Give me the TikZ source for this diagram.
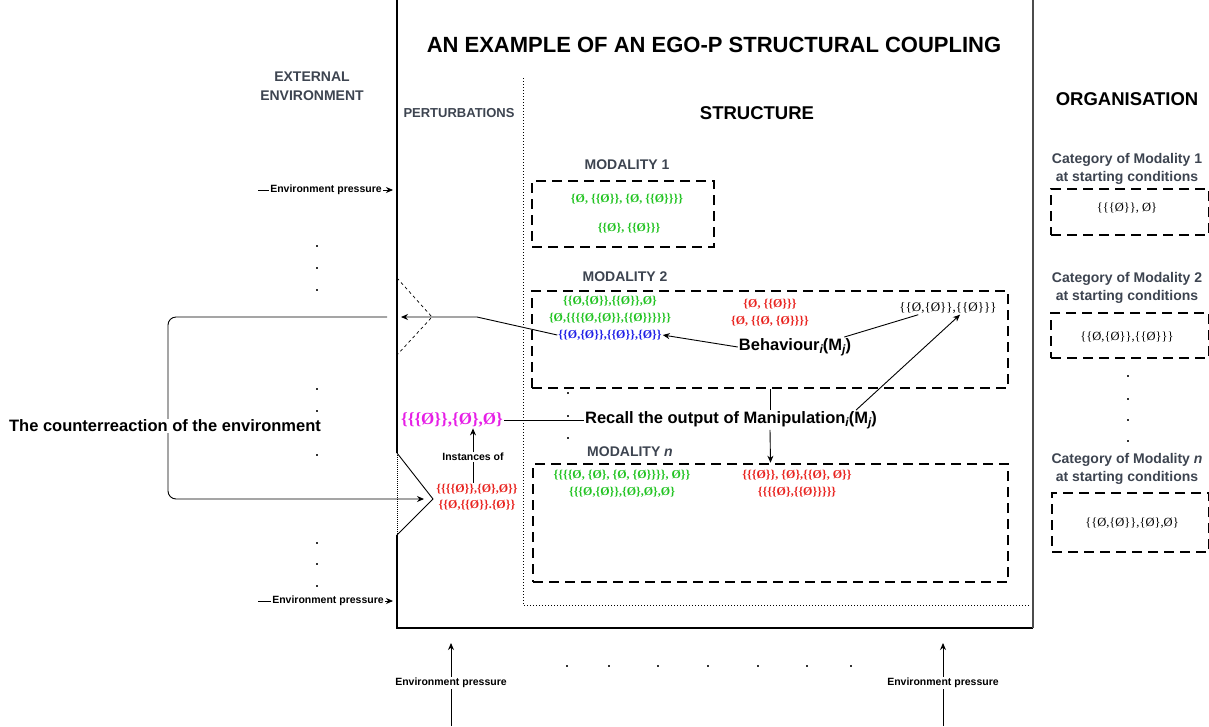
\documentclass[tikz,border=0pt]{standalone}
\usepackage{fontspec}
\setmainfont{Liberation Serif}
\setsansfont{Liberation Sans}
\usetikzlibrary{arrows.meta,calc}
\definecolor{hgray}{HTML}{3D4450}
\definecolor{sgreen}{HTML}{22C322}
\definecolor{sred}{HTML}{E8231F}
\definecolor{sblue}{HTML}{1F1FE6}
\definecolor{smag}{HTML}{E61EE6}
\definecolor{dotc}{HTML}{333333}
\newcommand{\fsz}[1]{\fontsize{#1}{#1}\selectfont}
\newcommand{\sbx}[1]{\raisebox{-0.35ex}{\fontsize{12}{12}\selectfont\itshape #1}}
\tikzset{
  every node/.style={inner sep=1pt},
  title/.style={font=\sffamily\bfseries\fsz{22}},
  head/.style={font=\sffamily\bfseries\fsz{18.5}},
  ghead/.style={font=\sffamily\bfseries\fsz{14}, text=hgray, align=center},
  glab/.style={font=\sffamily\bfseries\fsz{13}, text=hgray},
  blab/.style={font=\sffamily\bfseries\fsz{16.5}},
  small/.style={font=\sffamily\bfseries\fsz{10.5}, fill=white},
  setg/.style={font=\rmfamily\bfseries\fsz{12}, text=sgreen},
  setr/.style={font=\rmfamily\bfseries\fsz{12}, text=sred},
  setb/.style={font=\rmfamily\bfseries\fsz{12}, text=sblue},
  setk/.style={font=\rmfamily\fsz{12.5}},
  modbox/.style={draw, line width=2.6pt, dash pattern=on 10pt off 6pt, inner sep=0pt},
  conn/.style={line width=0.9pt},
  arr/.style={line width=0.9pt, -{Stealth[length=7pt,width=6pt]}},
  dotfill/.style={fill=dotc},
}
\begin{document}
\begin{tikzpicture}[x=1pt,y=-1pt]
\useasboundingbox (0,0) rectangle (1209,726);

% ---------- frame ----------
\draw[line width=1.2pt] (397,0) -- (397,453);
\draw[line width=1pt, densely dotted] (397,453) -- (397,535);
\draw[line width=1.2pt] (397,535) -- (397,628) -- (1033,628);
\draw[line width=1.2pt, draw=black!70] (1033,628) -- (1033,0);
% perturbation openings
\coordinate (ta) at (397,278);
\coordinate (tapex) at (432,317);
\coordinate (tb) at (397,355);
\draw[dashed, line width=0.7pt] (ta) -- (tapex) -- (tb);
\coordinate (ba) at (397,453);
\coordinate (bapex) at (433,499);
\coordinate (bb) at (397,535);
\draw[line width=0.9pt] (ba) -- (bapex) -- (bb);
% structure dotted frame
\draw[line width=1pt, dotted] (523,78) -- (523,605) -- (1030,605);

% ---------- headings ----------
\node[title] (title) at (714,45) {AN EXAMPLE OF AN EGO-P STRUCTURAL COUPLING};
\node[ghead, font=\sffamily\bfseries\fontsize{14}{19}\selectfont] (ext) at (312,86) {EXTERNAL\\ENVIRONMENT};
\node[glab] (pert) at (459,113) {PERTURBATIONS};
\node[head] (struct) at (757,113) {STRUCTURE};
\node[head] (org) at (1127,99) {ORGANISATION};

% ---------- environment pressure arrows ----------
\coordinate (ep1s) at (258,190); \coordinate (ep1e) at (393,190);
\draw[arr] (ep1s) -- (ep1e);
\node[small] (ep1) at (326,190) {Environment pressure};
\coordinate (ep2s) at (258,601); \coordinate (ep2e) at (393,601);
\draw[arr] (ep2s) -- (ep2e);
\node[small] (ep2) at (328,601) {Environment pressure};
\coordinate (ep3s) at (451,726); \coordinate (ep3e) at (451,643);
\draw[arr] (ep3s) -- (ep3e);
\node[small] (ep3) at (451,683) {Environment pressure};
\coordinate (ep4s) at (943,726); \coordinate (ep4e) at (943,643);
\draw[arr] (ep4s) -- (ep4e);
\node[small] (ep4) at (943,683) {Environment pressure};

% ---------- dots ----------
\foreach \yy in {245,267,289,388,410,454,542,563,585}
  \fill[dotfill] (316,\yy) rectangle +(2.4,2.4);
\foreach \xx in {566,608,657,707,757,806,850}
  \fill[dotfill] (\xx,665) rectangle +(2.4,2.4);
\foreach \yy in {375,398,419,440}
  \fill[dotfill] (1127,\yy) rectangle +(2.2,2.2);
\foreach \yy in {392,415,437}
  \fill[dotfill] (567,\yy) rectangle +(2.2,2.2);

% ---------- modality 1 ----------
\node[glab, font=\sffamily\bfseries\fsz{14}] (m1lab) at (627,165) {MODALITY 1};
\node[modbox, minimum width=182pt, minimum height=66pt] (m1) at (623,214) {};
\node[setg] (m1a) at (627,199) {\{Ø, \{\{Ø\}\}, \{Ø, \{\{Ø\}\}\}\}};
\node[setg] (m1b) at (629,228) {\{\{Ø\}, \{\{Ø\}\}\}};

% ---------- modality 2 ----------
\node[glab, font=\sffamily\bfseries\fsz{14}] (m2lab) at (625,277) {MODALITY 2};
\node[modbox, minimum width=476pt, minimum height=97pt] (m2) at (770,339.5) {};
\node[setg] (g1) at (610,301) {\{\{Ø,\{Ø\}\},\{\{Ø\}\},Ø\}};
\node[setg] (g2) at (610,318) {\{Ø,\{\{\{\{Ø,\{Ø\}\},\{\{Ø\}\}\}\}\}\}};
\node[setb] (bl) at (610,335) {\{\{Ø,\{Ø\}\},\{\{Ø\}\},\{Ø\}\}};
\node[setr] (r1) at (770,304) {\{Ø, \{\{Ø\}\}\}};
\node[setr] (r2) at (770,321) {\{Ø, \{\{Ø, \{Ø\}\}\}\}};
\node[setk, font=\rmfamily\fsz{13}] (blk) at (948,308) {\{\{Ø,\{Ø\}\},\{\{Ø\}\}\}};
\node[blab] (beh) at (795,347) {Behaviour\sbx{i}(M\sbx{j})};

% ---------- modality n ----------
\node[glab, font=\sffamily\bfseries\fsz{14}] (mnlab) at (630,452) {MODALITY \textit{n}};
\node[modbox, minimum width=475pt, minimum height=118pt] (mn) at (770.5,523) {};
\node[setg, align=center, font=\rmfamily\bfseries\fontsize{12}{17}\selectfont] (gn) at (622,484)
  {\{\{\{\{Ø, \{Ø\}, \{Ø, \{Ø\}\}\}\}, Ø\}\}\\\{\{\{Ø,\{Ø\}\},\{Ø\},Ø\},Ø\}};
\node[setr, align=center, font=\rmfamily\bfseries\fontsize{12}{17}\selectfont] (rn) at (797,484)
  {\{\{\{Ø\}\}, \{Ø\},\{\{Ø\}, Ø\}\}\\\{\{\{\{Ø\},\{\{Ø\}\}\}\}\}};

% ---------- recall ----------
\node[blab] (recall) at (731,420) {Recall the output of Manipulation\sbx{i}(M\sbx{j})};

% ---------- perturbations ----------
\node[font=\rmfamily\bfseries\fsz{17}, text=smag] (mag) at (452,420) {\{\{\{Ø\}\},\{Ø\},Ø\}};
\node[setr, align=center, font=\rmfamily\bfseries\fontsize{12}{16}\selectfont] (redp) at (477,497)
  {\{\{\{\{Ø\}\},\{Ø\},Ø\}\}\\\{\{Ø,\{\{Ø\}\}.\{Ø\}\}};
\node[small] (inst) at (473,457) {Instances of};
\draw[conn] (inst.south) -- (inst.south |- redp.north);
\draw[arr] (inst.north) -- (inst.north |- mag.south);

% ---------- connectors ----------
\draw[arr] (beh.west) -- (bl.east);
\draw[conn] ([xshift=-8pt]beh.north east) -- ([xshift=20pt]blk.south west);
\draw[conn] (mag.east) -- (recall.west);
\draw[conn] (m2.south) -- (m2.south |- recall.north);
\draw[arr] (m2.south |- recall.south) -- (mn.north);
\draw[arr] ([xshift=-22pt]recall.north east) -- ([xshift=12pt]blk.south);
\coordinate (bend) at (477,317);
\coordinate (ptip) at (401,317);
\draw[arr] (bl.west) -- (bend) -- (ptip);

% ---------- counterreaction loop ----------
\coordinate (lp1) at (387,317);
\coordinate (lp2) at (168,317);
\coordinate (lp3) at (168,499);
\coordinate (lp4) at (424,499);
\draw[arr, rounded corners=8pt] (lp1) -- (lp2) -- (lp3) -- (lp4);
\node[blab, fill=white] (counter) at (165,426) {The counterreaction of the environment};

% ---------- organisation ----------
\node[ghead, font=\sffamily\bfseries\fontsize{14}{18.5}\selectfont] (c1) at (1127,169) {Category of Modality 1\\at starting conditions};
\node[modbox, minimum width=158pt, minimum height=46pt] (ob1) at (1130,212) {};
\node[setk] (o1) at (1127,208) {\{\{\{Ø\}\}, Ø\}};
\node[ghead, font=\sffamily\bfseries\fontsize{14}{18.5}\selectfont] (c2) at (1127,288) {Category of Modality 2\\at starting conditions};
\node[modbox, minimum width=158pt, minimum height=45pt] (ob2) at (1130,335.5) {};
\node[setk] (o2) at (1127,337) {\{\{Ø,\{Ø\}\},\{\{Ø\}\}\}};
\node[ghead, font=\sffamily\bfseries\fontsize{14}{18.5}\selectfont] (cn) at (1127,469) {Category of Modality \textit{n}\\at starting conditions};
\node[modbox, minimum width=157pt, minimum height=59pt] (obn) at (1130.5,522.5) {};
\node[setk] (on) at (1132,523) {\{\{Ø,\{Ø\}\},\{Ø\},Ø\}};
\end{tikzpicture}
\end{document}
